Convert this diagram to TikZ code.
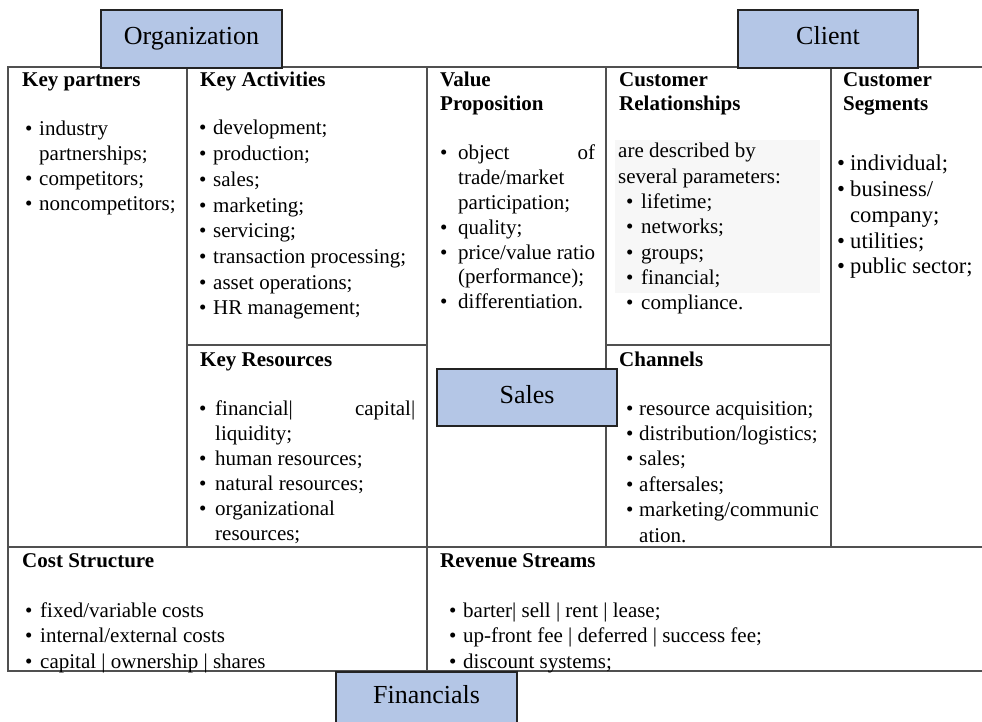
\documentclass[tikz,border=0pt]{standalone}
\usepackage{fontspec}
\setmainfont{Liberation Serif}
\usepackage{tikz}
\usetikzlibrary{positioning}
\tikzstyle{canvas} = [x = 1pt, y = -1pt]
\definecolor{gridColor}{RGB}{80,80,80}
\definecolor{boxColor}{RGB}{180,198,230}
\definecolor{boxBorder}{RGB}{35,35,35}
\definecolor{shadeColor}{RGB}{247,247,247}
\tikzstyle{gridLine} = [color=gridColor, line width=1.2pt, line cap=rect]
\tikzstyle{labelBoxStyle} = [draw=boxBorder, fill=boxColor, line width=1.3pt]
\tikzstyle{labelText} = [font=\fontsize{26}{30}\selectfont, text height=17pt, text depth=6pt, inner sep=0pt]
\tikzstyle{headerText} = [font=\fontsize{21}{24}\selectfont\bfseries, anchor=base west, inner sep=0pt]
\tikzset{listText/.style 2 args = {font=\fontsize{#1}{#2}\selectfont, anchor=base west, inner sep=0pt}}
\newcommand{\textStack}[1]{\begin{tabular}[t]{@{}l@{}}#1\end{tabular}}
\newcommand{\bulletItem}[2]{\makebox[#1][l]{\textbullet}#2}
\newcommand{\moreItem}[2]{\hspace*{#1}#2}
\newcommand{\labelBox}[6]{\filldraw [labelBoxStyle] (#2, #3) rectangle (#4, #5) node [labelText, midway] (#1) {#6};}
\newcommand{\horizontalGridLine}[3]{\draw [gridLine] (#1, #3) -- (#2, #3);}
\newcommand{\verticalGridLine}[3]{\draw [gridLine] (#1, #2) -- (#1, #3);}
\newcommand{\cellHeader}[4]{\node [headerText] (#1) at (#2, #3) {\textStack{#4}};}
\newcommand{\cellList}[6]{\node [listText={#4}{#5}] (#1) at (#2, #3) {\textStack{#6}};}

\begin{document}
\begin{tikzpicture}[canvas]
  \useasboundingbox (0, 0) rectangle (982, 722);
  \fill [shadeColor] (615, 140) rectangle (820, 293);

  % canvas frame
  \foreach \yLine/\xStart/\xEnd in {67/8/982, 345/187/427, 345/606/831, 547/8/982, 671/8/982} {
    \horizontalGridLine{\xStart}{\xEnd}{\yLine}
  }
  \foreach \xLine/\yEnd in {8/671, 187/547, 427/671, 606/547, 831/547} {
    \verticalGridLine{\xLine}{67}{\yEnd}
  }

  % headers
  \cellHeader{partners}{22}{87}{Key partners}
  \cellHeader{activities}{200}{87}{Key Activities}
  \cellHeader{value}{440}{87}{Value\\Proposition}
  \cellHeader{relationships}{619}{87}{Customer\\Relationships}
  \cellHeader{segments}{843}{87}{Customer\\Segments}
  \cellHeader{resources}{200}{366}{Key Resources}
  \cellHeader{channels}{619}{366}{Channels}
  \cellHeader{costs}{22}{567}{Cost Structure}
  \cellHeader{revenue}{440}{567}{Revenue Streams}

  % lists
  \cellList{partnersList}{25}{136}{21}{24.7}{\bulletItem{14pt}{industry}\\ \moreItem{14pt}{partnerships;}\\ \bulletItem{14pt}{competitors;}\\ \bulletItem{14pt}{noncompetitors;}}
  \cellList{activitiesList}{199}{135}{21}{25.7}{\bulletItem{14pt}{development;}\\ \bulletItem{14pt}{production;}\\ \bulletItem{14pt}{sales;}\\ \bulletItem{14pt}{marketing;}\\ \bulletItem{14pt}{servicing;}\\ \bulletItem{14pt}{transaction processing;}\\ \bulletItem{14pt}{asset operations;}\\ \bulletItem{14pt}{HR management;}}
  \cellList{valueList}{440}{160}{21}{24.8}{\bulletItem{18pt}{\makebox[137pt][s]{object of}}\\ \moreItem{18pt}{trade/market}\\ \moreItem{18pt}{participation;}\\ \bulletItem{18pt}{quality;}\\ \bulletItem{18pt}{price/value ratio}\\ \moreItem{18pt}{(performance);}\\ \bulletItem{18pt}{differentiation.}}
  \cellList{relationshipsList}{618}{158}{21}{25.3}{are described by\\ several parameters:\\ \moreItem{8pt}{\bulletItem{15pt}{lifetime;}}\\ \moreItem{8pt}{\bulletItem{15pt}{networks;}}\\ \moreItem{8pt}{\bulletItem{15pt}{groups;}}\\ \moreItem{8pt}{\bulletItem{15pt}{financial;}}\\ \moreItem{8pt}{\bulletItem{15pt}{compliance.}}}
  \cellList{segmentsList}{837}{171}{22.6}{25.7}{\bulletItem{13pt}{individual;}\\ \bulletItem{13pt}{business/}\\ \moreItem{13pt}{company;}\\ \bulletItem{13pt}{utilities;}\\ \bulletItem{13pt}{public sector;}}
  \cellList{resourcesList}{199}{415}{21}{25}{\bulletItem{16pt}{\makebox[200pt][s]{financial| capital|}}\\ \moreItem{16pt}{liquidity;}\\ \bulletItem{16pt}{human resources;}\\ \bulletItem{16pt}{natural resources;}\\ \bulletItem{16pt}{organizational}\\ \moreItem{16pt}{resources;}}
  \cellList{channelsList}{626}{415}{21}{25.4}{\bulletItem{13pt}{resource acquisition;}\\ \bulletItem{13pt}{distribution/logistics;}\\ \bulletItem{13pt}{sales;}\\ \bulletItem{13pt}{aftersales;}\\ \bulletItem{13pt}{marketing/communic}\\ \moreItem{13pt}{ation.}}
  \cellList{costsList}{25}{617}{21}{25.5}{\bulletItem{15pt}{fixed/variable costs}\\ \bulletItem{15pt}{internal/external costs}\\ \bulletItem{15pt}{capital | ownership | shares}}
  \cellList{revenueList}{449}{617}{21}{25.5}{\bulletItem{14pt}{barter| sell | rent | lease;}\\ \bulletItem{14pt}{up-front fee | deferred | success fee;}\\ \bulletItem{14pt}{discount systems;}}

  % building block groups
  \labelBox{organization}{101}{10}{282}{68}{Organization}
  \labelBox{client}{738}{10}{918}{68}{Client}
  \labelBox{sales}{437}{369}{617}{426}{Sales}
  \labelBox{financials}{336}{672}{517}{724}{Financials}
\end{tikzpicture}
\end{document}
